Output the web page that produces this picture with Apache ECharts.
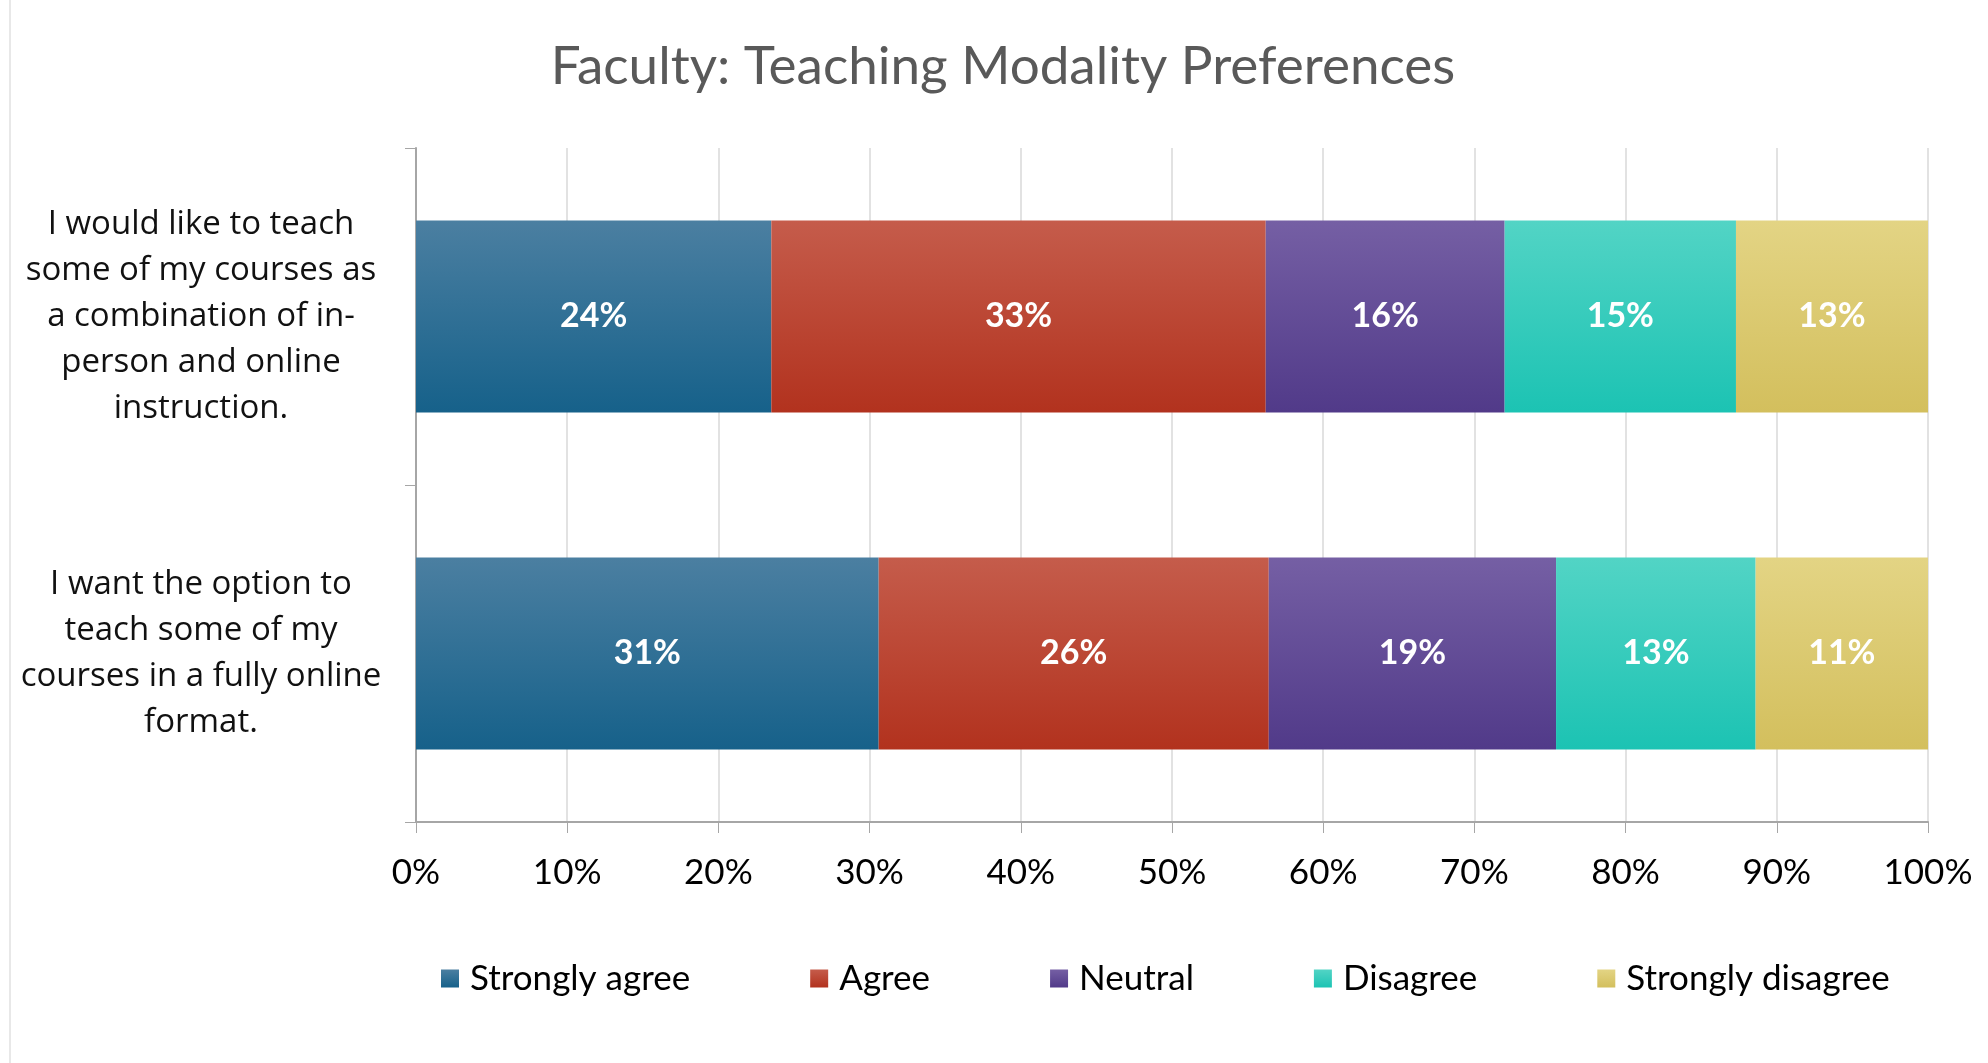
<!DOCTYPE html>
<html>
<head>
<meta charset="utf-8">
<script src="https://cdn.jsdelivr.net/npm/echarts@6/dist/echarts.min.js"></script>
<style>html,body{margin:0;padding:0;background:#fff;}#c{width:1988px;height:1063px;}</style>
</head>
<body>
<div id="c"></div>
<script>
const categories = [
  "I would like to teach\nsome of my courses as\na combination of in-\nperson and online\ninstruction.",
  "I want the option to\nteach some of my\ncourses in a fully online\nformat."
];
const seriesNames = ["Strongly agree", "Agree", "Neutral", "Disagree", "Strongly disagree"];
const stronglyAgree = [23.5, 30.6];
const agree = [32.7, 25.8];
const neutral = [15.8, 19.0];
const disagree = [15.3, 13.2];
const stronglyDisagree = [12.7, 11.4];
const xTicks = [0, 10, 20, 30, 40, 50, 60, 70, 80, 90, 100];

const values = [stronglyAgree, agree, neutral, disagree, stronglyDisagree];
const gradients = [
  ['#4b7fa1', '#16618a'],
  ['#c55c4b', '#b2321e'],
  ['#755fa4', '#513a89'],
  ['#52d4c5', '#1cc3b3'],
  ['#e3d484', '#d3bf5d']
];

const chart = echarts.init(document.getElementById('c'));
const option = {
  backgroundColor: '#ffffff',
  animation: false,
  title: {
    text: 'Faculty: Teaching Modality Preferences',
    left: 998, top: 35, textAlign: 'center',
    textStyle: { fontFamily: 'Lato', fontSize: 53, fontWeight: 'normal', color: '#595959' }
  },
  legend: {
    data: seriesNames,
    left: 436, top: 956,
    itemWidth: 18, itemHeight: 18, itemGap: 120,
    icon: 'rect',
    textStyle: { fontFamily: 'Lato', fontSize: 35, color: '#000', padding: [0, 0, 0, 6] }
  },
  grid: { left: 416, right: 60, top: 148, bottom: 241, containLabel: false },
  xAxis: {
    type: 'value', min: 0, max: 100, interval: 10,
    axisLine: { show: true, lineStyle: { color: '#a6a6a6', width: 2 } },
    axisTick: { show: true, length: 11, lineStyle: { color: '#a6a6a6', width: 1 } },
    splitLine: { show: true, lineStyle: { color: '#d9d9d9', width: 1.5 } },
    axisLabel: {
      formatter: v => v + '%', margin: 33,
      fontFamily: 'Lato', fontSize: 35, color: '#000'
    },
    data: xTicks
  },
  yAxis: {
    type: 'category', inverse: true, data: categories,
    axisLine: { show: true, lineStyle: { color: '#a6a6a6', width: 2 } },
    axisTick: { show: true, length: 11, lineStyle: { color: '#a6a6a6', width: 1 } },
    axisLabel: {
      align: 'center', margin: 215,
      fontFamily: 'Open Sans', fontSize: 33, lineHeight: 46, color: '#111'
    }
  },
  series: values.map((vals, i) => ({
    name: seriesNames[i], type: 'bar', stack: 'total',
    barCategoryGap: '43%',
    data: vals,
    itemStyle: {
      color: new echarts.graphic.LinearGradient(0, 0, 0, 1, [
        { offset: 0, color: gradients[i][0] },
        { offset: 1, color: gradients[i][1] }
      ])
    },
    label: {
      show: true, position: 'inside',
      formatter: p => Math.round(p.value) + '%',
      fontFamily: 'Lato', fontWeight: 'bold', fontSize: 34, color: '#fff'
    }
  })),
  graphic: [{
    type: 'line', shape: { x1: 10, y1: 0, x2: 10, y2: 1063 },
    style: { stroke: '#e0e0e0', lineWidth: 1.5 }
  }]
};
chart.setOption(option);
</script>
</body>
</html>
